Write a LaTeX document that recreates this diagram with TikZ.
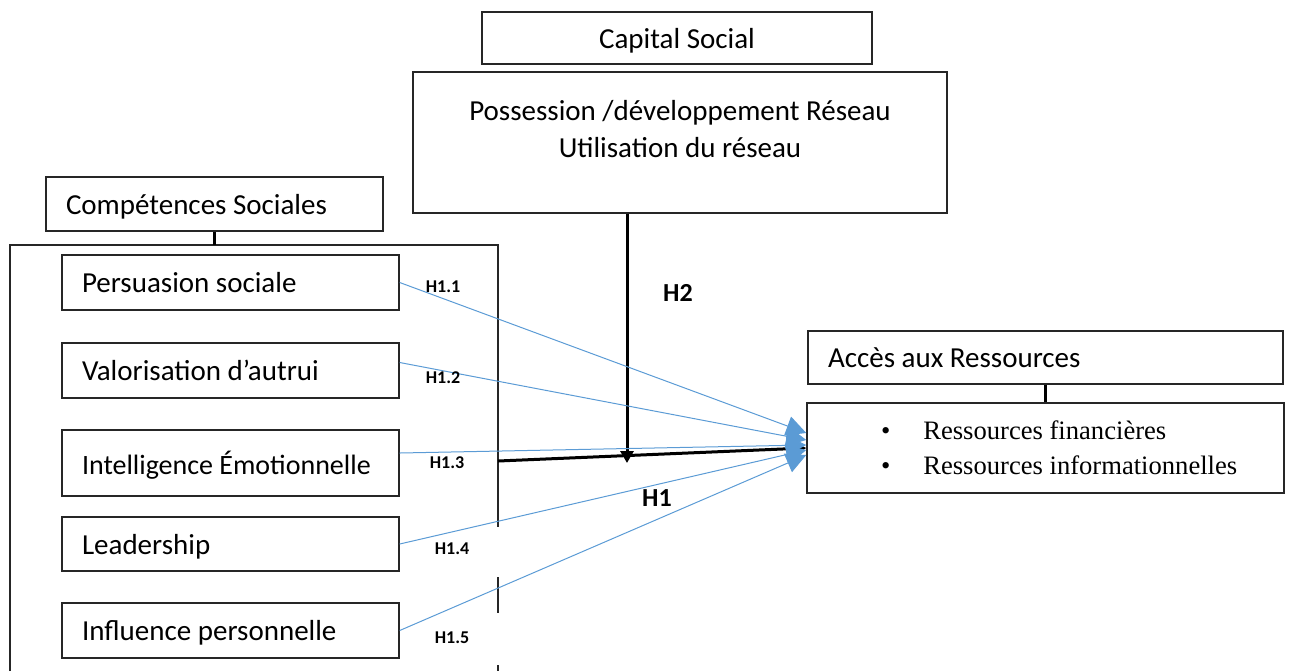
\documentclass[tikz,border=0pt]{standalone}
\usepackage{fontspec}
\setmainfont{Carlito}
\newfontfamily\timesfont{Liberation Serif}
\usetikzlibrary{arrows.meta,calc}
\definecolor{linkblue}{HTML}{5B9BD5}

\begin{document}
\begin{tikzpicture}[
  x=0.5pt, y=-0.5pt, font=\fontsize{14.5}{17}\selectfont,
  box/.style={draw=black!85,line width=0.7pt,inner sep=0pt,align=center},
  itembox/.style={box,minimum width=168.5pt,minimum height=27.5pt,
                  text width=148.5pt,align=flush left,text depth=0pt},
  link/.style={linkblue,line width=0.5pt,-{Triangle[length=10pt,width=10pt]}},
  effect/.style={black,line width=1.5pt},
  tie/.style={black,line width=1.2pt},
  hyp/.style={font=\fontsize{9}{10}\selectfont\bfseries},
  hmain/.style={font=\fontsize{13}{15}\selectfont\bfseries}]

\useasboundingbox (0,0) rectangle (1289,671);

% capital social
\node[box,minimum width=195pt,minimum height=26pt,text depth=0pt] (cap) at (677,38) {Capital Social};
\node[box,minimum width=267pt,minimum height=70.5pt] (poss) at (680,142.5)
  {Possession /développement Réseau\\[1.5pt]Utilisation du réseau\\[-3pt]~};

% competences sociales
\node[box,minimum width=168.5pt,minimum height=27pt,text width=148.5pt,align=flush left,text depth=0pt] (comp) at (214.5,204) {Compétences Sociales};
\draw[black!85,line width=0.7pt] (10,671) |- (498,245) -- (498,527);
\draw[black!85,line width=0.7pt] (498,577) -- (498,613);
\draw[black!85,line width=0.7pt] (498,665) -- (498,671);
\coordinate (groupN) at (214.5,245);
\coordinate (groupE) at (498,461);
\draw[tie] (comp.south) -- (groupN);

\node[itembox] (pers) at (230.5,282.5) {Persuasion sociale};
\node[itembox] (val)  at (230.5,370.5) {Valorisation d’autrui};
\node[itembox,minimum height=33pt,font=\fontsize{14}{17}\selectfont] (emo) at (230.5,463)
  {Intelligence Émotionnelle};
\node[itembox,minimum height=27pt] (lead) at (230.5,544) {Leadership};
\node[itembox] (infl) at (230.5,630.5) {Influence personnelle};

% acces aux ressources
\node[box,minimum width=237.5pt,minimum height=26.5pt,text width=217.5pt,align=flush left,text depth=0pt] (acc) at (1045.5,357.5) {Accès aux Ressources};
\node[box,minimum width=238.5pt,minimum height=45pt,text width=238.5pt,align=flush left,
      font=\timesfont\fontsize{13.3}{17.5}\selectfont] (res) at (1045.5,448)
  {\hspace*{37pt}\textbullet\hspace{16.5pt}Ressources financières\\
   \hspace*{37pt}\textbullet\hspace{16.5pt}Ressources informationnelles};
\draw[tie] (acc.south) -- (res.north);

% hypotheses
\coordinate (h2end) at (627,463);
\draw[effect,-{Triangle[length=6pt,width=6.5pt]}] (poss.south -| h2end) -- (h2end);
\draw[effect,-{Triangle[length=4pt,width=4pt]}] (groupE) -- (res.west);

\draw[link] (pers.east) -- ($(res.west)+(0,-15)$);
\draw[link] ([yshift=4pt]val.east) -- ($(res.west)+(0,-8)$);
\draw[link] ([yshift=5pt]emo.east) -- ($(res.west)+(0,-3)$);
\draw[link] (lead.east) -- ($(res.west)+(0,2)$);
\draw[link] (infl.east) -- ($(res.west)+(0,7)$);

\node[hyp] (h11) at (443,287) {H1.1};
\node[hyp] (h12) at (443,378) {H1.2};
\node[hyp] (h13) at (447,463) {H1.3};
\node[hyp] (h14) at (452,549) {H1.4};
\node[hyp] (h15) at (452,638) {H1.5};
\node[hmain] (h2) at (678,293) {H2};
\node[hmain] (h1) at (657,498) {H1};
\end{tikzpicture}
\end{document}
